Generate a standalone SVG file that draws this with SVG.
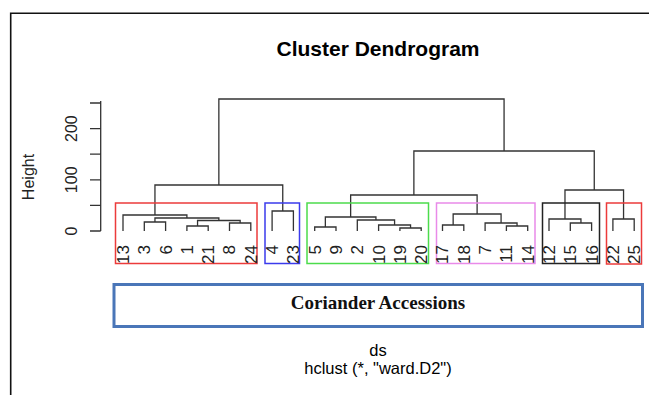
<svg xmlns="http://www.w3.org/2000/svg" width="649" height="395" viewBox="0 0 649 395">
<style>
.t{font-family:"Liberation Sans",Arial,sans-serif;fill:#000}
.lf{font-family:"Liberation Sans",Arial,sans-serif;font-size:17px;fill:#222;text-anchor:end}
.ax{font-family:"Liberation Sans",Arial,sans-serif;font-size:16px;fill:#222;text-anchor:middle}
.dg{fill:none;stroke:#333;stroke-width:1.3}
.bx{fill:none;stroke-width:1.5}
</style>
<rect x="0" y="0" width="649" height="395" fill="#fff"/>
<path d="M10.7 395 V13.3 H649" fill="none" stroke="#111" stroke-width="1.6"/>
<g id="title"><text class="t" x="378" y="56" font-size="21" font-weight="bold" text-anchor="middle">Cluster Dendrogram</text></g>
<g id="axis">
<path d="M100.7 101 V231 M90 231 H100.7 M90 205.4 H100.7 M90 179.8 H100.7 M90 154.2 H100.7 M90 128.6 H100.7 M90 103 H100.7" fill="none" stroke="#333" stroke-width="1.3"/>
<text class="ax" transform="translate(77,231) rotate(-90)">0</text>
<text class="ax" transform="translate(77,179.8) rotate(-90)">100</text>
<text class="ax" transform="translate(77,128.6) rotate(-90)">200</text>
<text class="ax" transform="translate(34,177) rotate(-90)">Height</text>
</g>
<g id="connectors" class="dg">
<path d="M144.3 231 V222 H165.6 V231"/>
<path d="M186.9 231 V226 H208.2 V231"/>
<path d="M229.5 231 V223 H250.8 V231"/>
<path d="M197.55 226 V220.5 H240.15 V223"/>
<path d="M154.95 222 V218 H218.85 V220.5"/>
<path d="M123 231 V215 H186.9 V218"/>
<path d="M272.1 231 V211 H293.4 V231"/>
<path d="M154.95 215 V185 H282.75 V211"/>
<path d="M314.7 231 V227 H336 V231"/>
<path d="M399.9 231 V228 H421.2 V231"/>
<path d="M378.6 231 V225 H410.55 V228"/>
<path d="M357.3 231 V220 H394.58 V225"/>
<path d="M325.35 227 V217 H375.94 V220"/>
<path d="M442.5 231 V225 H463.8 V231"/>
<path d="M506.4 231 V226 H527.7 V231"/>
<path d="M485.1 231 V223 H517.05 V226"/>
<path d="M453.15 225 V214 H501.08 V223"/>
<path d="M350.64 217 V195 H477.11 V214"/>
<path d="M570.3 231 V223 H591.6 V231"/>
<path d="M549 231 V219 H580.95 V223"/>
<path d="M612.9 231 V219 H634.2 V231"/>
<path d="M564.98 219 V190 H623.55 V219"/>
<path d="M413.88 195 V151 H594.26 V190"/>
<path d="M218.85 185 V99 H504.07 V151"/>
</g>
<g id="cluster-red-1">
<rect class="bx" x="115.5" y="203" width="141.5" height="60.5" stroke="#ec3b3b"/>
<text class="lf" transform="translate(123,245) rotate(-90)" dy="0.35em">13</text>
<text class="lf" transform="translate(144.3,245) rotate(-90)" dy="0.35em">3</text>
<text class="lf" transform="translate(165.6,245) rotate(-90)" dy="0.35em">6</text>
<text class="lf" transform="translate(186.9,245) rotate(-90)" dy="0.35em">1</text>
<text class="lf" transform="translate(208.2,245) rotate(-90)" dy="0.35em">21</text>
<text class="lf" transform="translate(229.5,245) rotate(-90)" dy="0.35em">8</text>
<text class="lf" transform="translate(250.8,245) rotate(-90)" dy="0.35em">24</text>
</g>
<g id="cluster-blue">
<rect class="bx" x="265" y="203" width="34.5" height="60.5" stroke="#3b3bec"/>
<text class="lf" transform="translate(272.1,245) rotate(-90)" dy="0.35em">4</text>
<text class="lf" transform="translate(293.4,245) rotate(-90)" dy="0.35em">23</text>
</g>
<g id="cluster-green">
<rect class="bx" x="307" y="203" width="121.5" height="60.5" stroke="#4cdc4c"/>
<text class="lf" transform="translate(314.7,245) rotate(-90)" dy="0.35em">5</text>
<text class="lf" transform="translate(336,245) rotate(-90)" dy="0.35em">9</text>
<text class="lf" transform="translate(357.3,245) rotate(-90)" dy="0.35em">2</text>
<text class="lf" transform="translate(378.6,245) rotate(-90)" dy="0.35em">10</text>
<text class="lf" transform="translate(399.9,245) rotate(-90)" dy="0.35em">19</text>
<text class="lf" transform="translate(421.2,245) rotate(-90)" dy="0.35em">20</text>
</g>
<g id="cluster-violet">
<rect class="bx" x="436.5" y="203" width="98.5" height="60.5" stroke="#e98ae9"/>
<text class="lf" transform="translate(442.5,245) rotate(-90)" dy="0.35em">17</text>
<text class="lf" transform="translate(463.8,245) rotate(-90)" dy="0.35em">18</text>
<text class="lf" transform="translate(485.1,245) rotate(-90)" dy="0.35em">7</text>
<text class="lf" transform="translate(506.4,245) rotate(-90)" dy="0.35em">11</text>
<text class="lf" transform="translate(527.7,245) rotate(-90)" dy="0.35em">14</text>
</g>
<g id="cluster-black">
<rect class="bx" x="542.5" y="203" width="57" height="60.5" stroke="#222"/>
<text class="lf" transform="translate(549,245) rotate(-90)" dy="0.35em">12</text>
<text class="lf" transform="translate(570.3,245) rotate(-90)" dy="0.35em">15</text>
<text class="lf" transform="translate(591.6,245) rotate(-90)" dy="0.35em">16</text>
</g>
<g id="cluster-red-2">
<rect class="bx" x="606.5" y="203" width="35" height="61" stroke="#ec3b3b"/>
<text class="lf" transform="translate(612.9,245) rotate(-90)" dy="0.35em">22</text>
<text class="lf" transform="translate(634.2,245) rotate(-90)" dy="0.35em">25</text>
</g>
<g id="accessions">
<rect x="114" y="284.5" width="528.5" height="42" fill="#fff" stroke="#4a76b8" stroke-width="3"/>
<text x="378" y="308.5" font-family="'Liberation Serif','Times New Roman',serif" font-size="19" font-weight="bold" text-anchor="middle" fill="#111">Coriander Accessions</text>
</g>
<g id="sub">
<text class="t" x="378" y="356" font-size="16.5" text-anchor="middle" fill="#222">ds</text>
<text class="t" x="378" y="374" font-size="16.5" text-anchor="middle" fill="#222">hclust (*, "ward.D2")</text>
</g>
</svg>
